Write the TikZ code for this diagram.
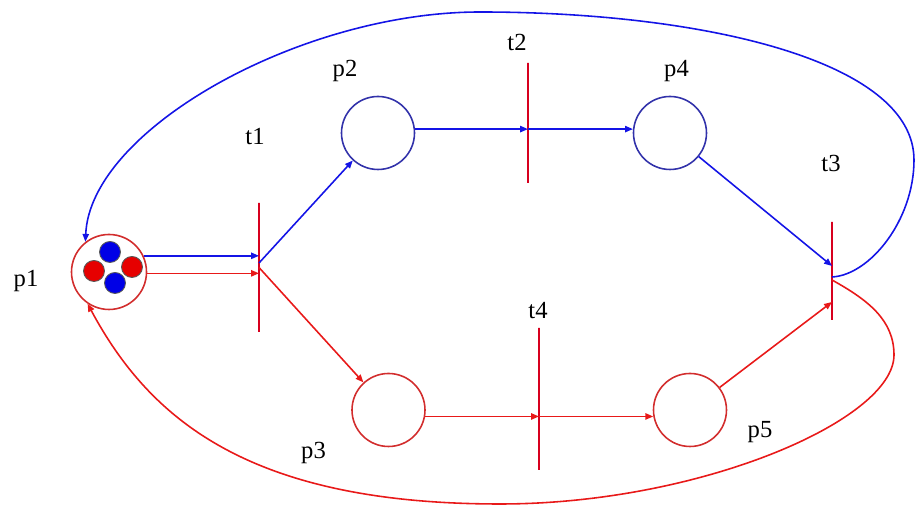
\documentclass[tikz,border=0pt]{standalone}
\usepackage{fontspec}
\setmainfont{Liberation Serif}
\usetikzlibrary{arrows.meta}
\definecolor{arcblue}{RGB}{20,20,230}
\definecolor{placeblue}{RGB}{50,50,170}
\definecolor{arcred}{RGB}{232,25,25}
\definecolor{placered}{RGB}{210,45,45}
\definecolor{barred}{RGB}{215,0,30}
\definecolor{tokblue}{RGB}{0,0,230}
\definecolor{tokred}{RGB}{230,0,0}
\begin{document}
\begin{tikzpicture}[
        place/.style={shape=circle, inner sep=0, minimum size=1.46cm, line width=0.9pt},
        trans/.style={shape=rectangle, draw=barred, inner sep=0, minimum width=0pt, line width=0.8pt},
        token/.style={shape=circle, inner sep=0, minimum size=0.42cm, draw=black!65, line width=0.5pt},
        lbl/.style={inner sep=0, font=\fontsize{14}{16}\selectfont},
        arcb/.style={draw=arcblue, line width=0.9pt, -{Triangle[length=4.5pt, width=3.6pt]}},
        arcr/.style={draw=arcred, line width=0.9pt, -{Triangle[length=4.5pt, width=3.6pt]}}
    ]
        \useasboundingbox (0, 0) rectangle (18.32, 10.14);
        % Places and transitions:
        \node[place, draw=placered, minimum size=1.50cm](P1) at (2.18, 4.70){};
        \node[place, draw=placeblue](P2) at (7.56, 7.48){};
        \node[place, draw=placered](P3) at (7.77, 1.94){};
        \node[place, draw=placeblue](P4) at (13.40, 7.48){};
        \node[place, draw=placered](P5) at (13.80, 1.94){};
        \node[trans, minimum height=2.58cm](T1) at (5.18, 4.79){};
        \node[trans, minimum height=2.40cm](T2) at (10.56, 7.68){};
        \node[trans, minimum height=1.96cm](T3) at (16.64, 4.72){};
        \node[trans, minimum height=2.84cm](T4) at (10.78, 2.16){};
        % Tokens in p1:
        \node[token, fill=tokblue](K1) at ([shift={(0.02, 0.40)}]P1.center){};
        \node[token, fill=tokred](K2) at ([shift={(-0.30, 0.02)}]P1.center){};
        \node[token, fill=tokred](K3) at ([shift={(0.46, 0.10)}]P1.center){};
        \node[token, fill=tokblue](K4) at ([shift={(0.12, -0.22)}]P1.center){};
        % Labels:
        \node[lbl](LP1) at (0.52, 4.52){p1};
        \node[lbl](LP2) at (6.90, 8.72){p2};
        \node[lbl](LP3) at (6.27, 1.08){p3};
        \node[lbl](LP4) at (13.53, 8.72){p4};
        \node[lbl](LP5) at (15.20, 1.50){p5};
        \node[lbl](LT1) at (5.10, 7.41){t1};
        \node[lbl](LT2) at (10.34, 9.29){t2};
        \node[lbl](LT3) at (16.62, 6.87){t3};
        \node[lbl](LT4) at (10.76, 3.93){t4};
        % Blue arcs:
        \draw[arcb] (P1.25) -- (P1.25 -| T1);
        \draw[arcb] ([yshift=0.09cm]T1.center) -- (P2);
        \draw[arcb] (P2.6) -- (P2.6 -| T2);
        \draw[arcb] (P2.6 -| T2) -- (P4.174);
        \draw[arcb] (P4) -- ([yshift=0.10cm]T3.center);
        \draw[arcb] ([yshift=-0.12cm]T3.center) .. controls (17.40, 4.64) and (18.28, 5.74) .. (18.28, 6.94)
            .. controls (18.28, 8.94) and (14.00, 9.90) .. (9.60, 9.90)
            .. controls (6.00, 9.90) and (1.80, 7.54) .. (P1.128);
        % Red arcs:
        \draw[arcr] (P1.-2) -- (P1.-2 -| T1);
        \draw[arcr] (T1.center) -- (P3);
        \draw[arcr] (P3.-10) -- (P3.-10 -| T4);
        \draw[arcr] (P3.-10 -| T4) -- (P5.190);
        \draw[arcr] (P5) -- ([yshift=-0.62cm]T3.center);
        \draw[arcr] ([yshift=-0.18cm]T3.center) .. controls (17.36, 4.14) and (17.88, 3.74) .. (17.88, 3.04)
            .. controls (17.88, 1.74) and (14.00, 0.06) .. (10.00, 0.06)
            .. controls (5.00, 0.06) and (3.00, 1.74) .. (P1.236);
    \end{tikzpicture}
\end{document}
